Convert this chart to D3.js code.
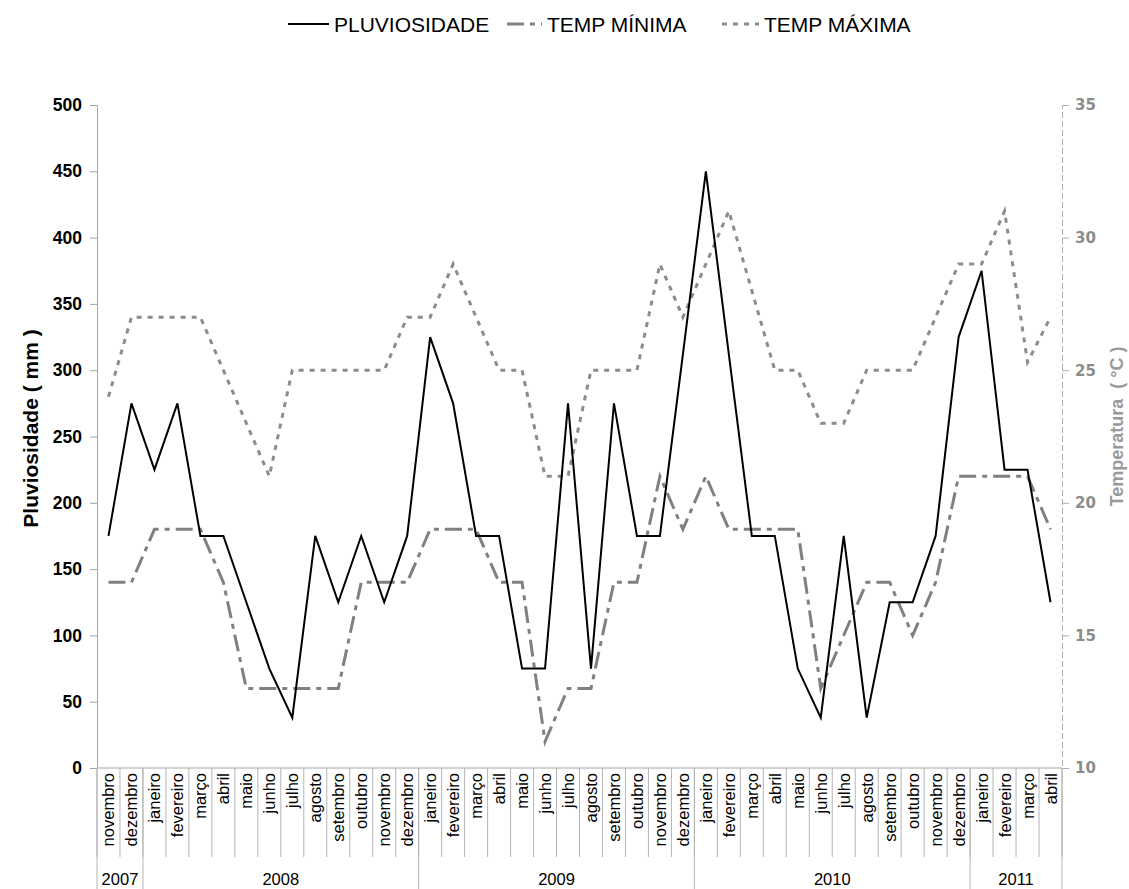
<!DOCTYPE html>
<html>
<head>
    <meta charset="utf-8" />
    <title>Pluviosidade e temperatura</title>
    <script src="https://d3js.org/d3.v7.min.js"></script>
    <style>
        body { margin: 0; background: #fff; }
        svg { font-family: "Liberation Sans", Arial, sans-serif; }
        .line { fill: none; }
    </style>
</head>
<body>
<svg width="1129" height="889"></svg>
<script>

    // meses (nov/2007 .. abr/2011)
    var months = ["novembro", "dezembro",
        "janeiro", "fevereiro", "março", "abril", "maio", "junho", "julho", "agosto", "setembro", "outubro", "novembro", "dezembro",
        "janeiro", "fevereiro", "março", "abril", "maio", "junho", "julho", "agosto", "setembro", "outubro", "novembro", "dezembro",
        "janeiro", "fevereiro", "março", "abril", "maio", "junho", "julho", "agosto", "setembro", "outubro", "novembro", "dezembro",
        "janeiro", "fevereiro", "março", "abril"];
    var years = ["2007", "2008", "2009", "2010", "2011"];
    var yearCounts = [2, 12, 12, 12, 4];

    var pluviosidade = [175, 275,
        225, 275, 175, 175, 125, 75, 38, 175, 125, 175, 125, 175,
        325, 275, 175, 175, 75, 75, 275, 75, 275, 175, 175, 312,
        450, 312, 175, 175, 75, 38, 175, 38, 125, 125, 175, 325,
        375, 225, 225, 125];
    var tempMinima = [17, 17,
        19, 19, 19, 17, 13, 13, 13, 13, 13, 17, 17, 17,
        19, 19, 19, 17, 17, 11, 13, 13, 17, 17, 21, 19,
        21, 19, 19, 19, 19, 13, 15, 17, 17, 15, 17, 21,
        21, 21, 21, 19];
    var tempMaxima = [24, 27,
        27, 27, 27, 25, 23, 21, 25, 25, 25, 25, 25, 27,
        27, 29, 27, 25, 25, 21, 21, 25, 25, 25, 29, 27,
        29, 31, 28, 25, 25, 23, 23, 25, 25, 25, 27, 29,
        29, 31, 25.3, 27];

    var pluvTicks = [0, 50, 100, 150, 200, 250, 300, 350, 400, 450, 500];
    var tempTicks = [10, 15, 20, 25, 30, 35];

    var svg = d3.select("svg"),
        margin = { top: 105, right: 67, bottom: 121, left: 97 },
        width = +svg.attr("width") - margin.left - margin.right,
        height = +svg.attr("height") - margin.top - margin.bottom,
        g = svg.append("g").attr("transform", "translate(" + margin.left + "," + margin.top + ")");

    var idx = d3.range(months.length);

    var x = d3.scaleBand().domain(idx).range([0, width]).padding(0);
    var y = d3.scaleLinear().domain([0, 500]).range([height, 0]);
    var yT = d3.scaleLinear().domain([10, 35]).range([height, 0]);

    function cx(i) { return x(i) + x.bandwidth() / 2; }

    // eixo esquerdo
    var yAxis = g.append("g")
        .call(d3.axisLeft(y).tickValues(pluvTicks).tickSize(7).tickPadding(8));
    yAxis.selectAll("path, line").attr("stroke", "#a6a6a6");
    yAxis.selectAll("text")
        .attr("font-size", 17.5).attr("font-weight", "bold").attr("fill", "#000")
        .attr("font-family", "'Liberation Sans', Arial, sans-serif");

    // eixo direito (tracejado)
    var yAxisR = g.append("g")
        .attr("transform", "translate(" + width + ",0)")
        .call(d3.axisRight(yT).tickValues(tempTicks).tickSize(7).tickPadding(6));
    yAxisR.select("path").attr("stroke", "#b0b0b0").attr("stroke-dasharray", "6,3");
    yAxisR.selectAll("line").attr("stroke", "#b0b0b0");
    yAxisR.selectAll("text")
        .attr("font-size", 15).attr("font-weight", "bold").attr("fill", "#8c8c8c")
        .attr("font-family", "'DejaVu Sans', Verdana, sans-serif");

    // linha base do eixo x
    g.append("line")
        .attr("x1", 0).attr("x2", width)
        .attr("y1", height).attr("y2", height)
        .attr("stroke", "#a6a6a6");

    // divisórias dos meses
    g.selectAll(".sep")
        .data(idx.concat([months.length]))
        .enter().append("line")
        .attr("class", "sep")
        .attr("x1", function (d) { return d < months.length ? x(d) : width; })
        .attr("x2", function (d) { return d < months.length ? x(d) : width; })
        .attr("y1", height)
        .attr("y2", height + 89)
        .attr("stroke", "#b4b4b4");

    // divisórias dos anos
    var starts = [0];
    yearCounts.forEach(function (c, k) { starts.push(starts[k] + c); });

    g.selectAll(".ysep")
        .data(starts)
        .enter().append("line")
        .attr("x1", function (d) { return d < months.length ? x(d) : width; })
        .attr("x2", function (d) { return d < months.length ? x(d) : width; })
        .attr("y1", height)
        .attr("y2", height + 121)
        .attr("stroke", "#b4b4b4");

    // rótulos dos meses
    g.selectAll(".month")
        .data(idx)
        .enter().append("text")
        .attr("transform", function (d) { return "translate(" + (cx(d) + 6) + "," + (height + 5) + ") rotate(-90)"; })
        .attr("text-anchor", "end")
        .attr("font-size", 16.5)
        .attr("fill", "#000")
        .text(function (d) { return months[d]; });

    // rótulos dos anos
    g.selectAll(".year")
        .data(years)
        .enter().append("text")
        .attr("x", function (d, k) {
            var a = x(starts[k]);
            var b = starts[k + 1] < months.length ? x(starts[k + 1]) : width;
            return (a + b) / 2;
        })
        .attr("y", height + 117)
        .attr("text-anchor", "middle")
        .attr("font-size", 16.5)
        .attr("fill", "#000")
        .text(function (d) { return d; });

    // títulos dos eixos
    svg.append("text")
        .attr("transform", "translate(38," + (margin.top + height / 2 - 8) + ") rotate(-90)")
        .attr("text-anchor", "middle")
        .attr("font-size", 21).attr("font-weight", "bold")
        .attr("fill", "#000")
        .text("Pluviosidade ( mm )");

    svg.append("text")
        .attr("transform", "translate(1123," + (margin.top + height / 2 - 10) + ") rotate(-90)")
        .attr("text-anchor", "middle")
        .attr("font-size", 18).attr("font-weight", "bold")
        .attr("fill", "#9a9a9a")
        .attr("xml:space", "preserve")
        .text("Temperatura  ( °C )");

    // séries
    var linePluv = d3.line().x(function (d, i) { return cx(i); }).y(function (d) { return y(d); });
    var lineTemp = d3.line().x(function (d, i) { return cx(i); }).y(function (d) { return yT(d); });

    g.append("path")
        .data([tempMaxima])
        .attr("class", "line")
        .attr("stroke", "#8c8c8c")
        .attr("stroke-width", 3)
        .attr("stroke-dasharray", "5,6")
        .attr("d", lineTemp);

    g.append("path")
        .data([tempMinima])
        .attr("class", "line")
        .attr("stroke", "#808080")
        .attr("stroke-width", 3)
        .attr("stroke-dasharray", "17,6,5,6")
        .attr("d", lineTemp);

    g.append("path")
        .data([pluviosidade])
        .attr("class", "line")
        .attr("stroke", "#000")
        .attr("stroke-width", 2)
        .attr("d", linePluv);

    // legenda
    var legend = [
        { name: "PLUVIOSIDADE", x: 288, tx: 46, color: "#000", dash: null, w: 2 },
        { name: "TEMP MÍNIMA", x: 507, tx: 40, color: "#808080", dash: "17,6,5,6", w: 3 },
        { name: "TEMP MÁXIMA", x: 722, tx: 42, color: "#8c8c8c", dash: "5,6", w: 3 }
    ];

    var lg = svg.append("g").selectAll("g")
        .data(legend)
        .enter().append("g")
        .attr("transform", function (d) { return "translate(" + d.x + ",24)"; });

    lg.append("line")
        .attr("x1", 0).attr("x2", function (d) { return d.tx - 5; })
        .attr("stroke", function (d) { return d.color; })
        .attr("stroke-width", function (d) { return d.w; })
        .attr("stroke-dasharray", function (d) { return d.dash; });

    lg.append("text")
        .attr("x", function (d) { return d.tx; })
        .attr("dy", "0.36em")
        .attr("font-size", 21)
        .attr("fill", "#000")
        .text(function (d) { return d.name; });

</script>
</body>
</html>
